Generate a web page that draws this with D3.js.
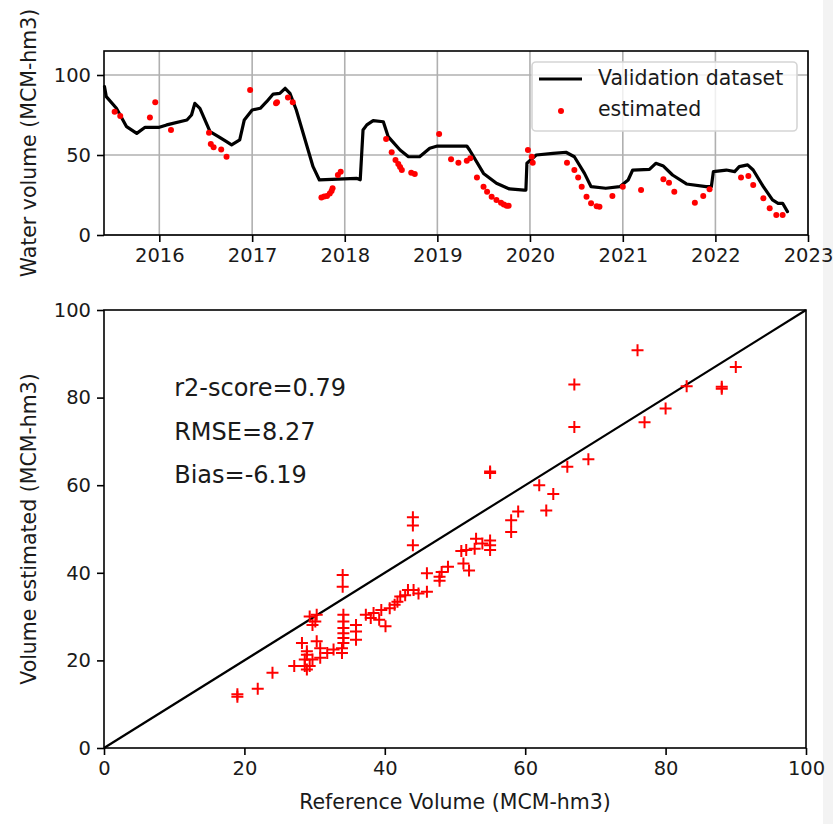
<!DOCTYPE html>
<html>
<head>
<script type="text/javascript" src="https://d3js.org/d3.v7.min.js"></script>
<title>Validation of reservoir volume</title>
<style>
  body { margin:0; background:#fff; }
  text { font-family:"DejaVu Sans", sans-serif; fill:#1a1a1a; }
</style>
</head>
<body>
<div id="chart"></div>

<script type="text/javascript">
// validation dataset (line in top panel)
var valDates = ["2015-05-30","2015-06-06","2015-07-16","2015-08-25","2015-10-04","2015-11-06","2016-01-01","2016-01-30",
  "2016-04-19","2016-05-07","2016-05-20","2016-06-09","2016-07-19","2016-08-21","2016-09-22","2016-10-12","2016-11-13",
  "2016-12-01","2017-01-01","2017-02-02","2017-02-27","2017-03-25","2017-04-20","2017-05-11","2017-05-30","2017-06-24",
  "2017-08-29","2017-09-23","2018-02-16","2018-03-03","2018-03-14","2018-03-29","2018-04-23","2018-06-02","2018-06-21",
  "2018-08-07","2018-09-09","2018-10-23","2018-12-02","2019-01-01","2019-04-27","2019-05-08","2019-07-02","2019-08-22",
  "2019-10-12","2019-12-09","2019-12-16","2019-12-20","2020-01-26","2020-04-01","2020-05-22","2020-06-24","2020-08-03",
  "2020-08-29","2020-10-26","2020-12-20","2021-01-22","2021-02-09","2021-04-16","2021-05-11","2021-06-10","2021-07-16",
  "2021-09-09","2021-11-25","2021-12-16","2021-12-24","2022-02-13","2022-03-18","2022-04-05","2022-05-08","2022-05-30",
  "2022-07-09","2022-08-14","2022-09-05","2022-09-23","2022-10-12"];
var valVolume = [92.7,86.5,79.2,67.7,63.5,67.3,67.3,68.8,
  71.9,75,82.3,79.2,64.6,61.5,58.3,56.3,59.4,
  71.9,78.1,79.2,83.3,88.1,88.5,91.7,88.5,78.1,
  42.7,34.4,35.4,34.5,65.6,68.8,71.5,70.8,61.5,
  53.1,48.9,48.9,54.2,55.6,55.6,53.1,38.5,32.3,
  28.8,28.1,28.1,44.8,50,51,51.7,48.9,38.5,
  30.2,29.2,30.2,34.4,40.6,41,44.8,43.1,37.5,
  31.9,30.2,30.2,39.6,40.6,39.6,42.7,43.8,40.6,
  30.2,21.9,19.8,19.8,14.6];

// estimated volumes (red dots in top panel)
var estDates = ["2015-07-09","2015-07-31","2015-11-25","2015-12-16","2016-02-16","2016-07-15","2016-07-22","2016-08-02",
  "2016-09-01","2016-09-22","2016-12-24","2017-04-05","2017-04-09","2017-05-22","2017-06-10","2017-10-01","2017-10-12",
  "2017-10-23","2017-11-03","2017-11-10","2017-11-14","2017-12-05","2017-12-16","2018-06-13","2018-07-05","2018-07-20",
  "2018-07-31","2018-08-07","2018-08-14","2018-09-20","2018-10-04","2019-01-08","2019-02-24","2019-03-25","2019-04-27",
  "2019-05-11","2019-06-06","2019-07-02","2019-07-16","2019-08-03","2019-08-22","2019-09-09","2019-09-20","2019-10-01",
  "2019-10-09","2019-12-24","2020-01-08","2020-01-12","2020-05-26","2020-06-24","2020-07-09","2020-07-23","2020-08-11",
  "2020-08-29","2020-09-20","2020-10-01","2020-11-21","2021-01-01","2021-03-14","2021-06-10","2021-07-02","2021-07-23",
  "2021-10-12","2021-11-14","2021-12-09","2022-04-12","2022-05-11","2022-05-30","2022-07-09","2022-08-03","2022-08-29",
  "2022-09-23"];
var estVolume = [77.1,74.4,73.5,82.9,65.6,63.9,56.9,54.8,
  53.5,48.9,90.6,82.3,83.0,86,82.9,23.5,24.0,
  24.4,26,27.5,29.2,37.5,39.6,60,51.7,46.9,
  44.4,42.5,40.6,38.9,38.1,63.1,47.3,45.2,46.4,
  47.9,36,30.2,27.1,23.9,21.9,20.2,19,18.3,
  18.3,53.1,48.9,45.2,45.2,40.6,36,30.2,23.9,
  19.8,18.0,17.7,24.4,30.2,28.1,34.8,32.7,27.1,
  20.2,24.4,28.6,36,36.9,31.3,22.9,16.7,12.5,
  12.5];

// scatter panel: reference vs estimated
var refVolume = [76,90,67,83,88,88,80,67,77,69,66,55,55,62,64,59,63,58,58,44,44,44,
  53,55,55,55,52.8,51.6,50.9,53.9,51.2,52,49,48.1,47.8,47.8,46,46,34,34,
  43.3,42.9,42.2,41.8,41.4,40.7,39.5,38.4,37.3,38,39.2,40.1,44.8,44.1,
  35.9,35.9,35.9,34.1,34.1,34.1,34.1,34.1,34.1,33.9,33.9,32.7,31.8,30.8,
  30.3,29.3,30.1,29.7,28.2,30.3,30.8,28.9,28.9,29.7,28.6,27.1,28.6,28.9,29.3,
  24,21.9,19,19];
var estScatter = [90.8,87,83,82.6,82.5,82,77.5,73.3,74.4,65.9,64.2,63.1,62.8,60,58,54,54.2,52,49.3,52.7,50.8,46.3,
  47.8,47.4,46.3,45.2,45.5,45.2,45,46.7,42.1,40.5,41.4,40.2,39.1,38.2,39.9,35.7,39.5,36.8,
  36.1,34.9,34.6,33.4,32.7,31.9,31.5,30.8,30.4,29.7,29.3,27.8,35.3,36.1,
  28.1,26.6,24.7,30.4,28.9,27.4,26.2,25.1,24,22.8,21.7,22.5,21.7,20.6,
  30.4,30,28.9,28.1,24,24.4,22.8,22.1,21.3,20.2,20.2,18.7,18.7,17.9,18.7,
  17.2,13.5,12.3,11.7];

var yearTicks = [2016,2017,2018,2019,2020,2021,2022,2023];
var volumeTicks = [0,50,100];
var scatterTicks = [0,20,40,60,80,100];
var stats = ["r2-score=0.79","RMSE=8.27","Bias=-6.19"];

(function(){
  var W = 833, H = 824;
  var parse = d3.timeParse("%Y-%m-%d");
  var tickFont = "19.5px", labelFont = "20.5px";

  var svg = d3.select("#chart").append("svg")
      .attr("width", W).attr("height", H);
  svg.append("rect").attr("width", W).attr("height", H).attr("fill", "#fff");
  svg.append("rect").attr("x", 823).attr("width", 10).attr("height", H).attr("fill", "#f3f3f3");

  // ---------- top panel: time series ----------
  var t = {left:104, right:808, top:51, bottom:235};
  var x1 = d3.scaleTime()
      .domain([parse("2015-05-28"), parse("2023-01-01")])
      .range([t.left, t.right]);
  var y1 = d3.scaleLinear().domain([0, 115]).range([t.bottom, t.top]);
  var yearDates = yearTicks.map(function(y){ return new Date(y, 0, 1); });

  var g1 = svg.append("g");
  // grid
  g1.selectAll(".vgrid").data(yearDates).enter().append("line")
    .attr("x1", function(d){ return x1(d); }).attr("x2", function(d){ return x1(d); })
    .attr("y1", t.top).attr("y2", t.bottom)
    .attr("stroke", "#b0b0b0").attr("stroke-width", 1.6);
  g1.selectAll(".hgrid").data(volumeTicks).enter().append("line")
    .attr("x1", t.left).attr("x2", t.right)
    .attr("y1", function(d){ return y1(d); }).attr("y2", function(d){ return y1(d); })
    .attr("stroke", "#b0b0b0").attr("stroke-width", 1.6);

  var valData = valDates.map(function(d, i){ return [parse(d), valVolume[i]]; });
  var estData = estDates.map(function(d, i){ return [parse(d), estVolume[i]]; });

  var line = d3.line()
      .x(function(d){ return x1(d[0]); })
      .y(function(d){ return y1(d[1]); });
  g1.append("path").datum(valData)
    .attr("d", line).attr("fill", "none")
    .attr("stroke", "#000").attr("stroke-width", 3.2)
    .attr("stroke-linejoin", "round").attr("stroke-linecap", "round");

  g1.selectAll(".est").data(estData).enter().append("circle")
    .attr("cx", function(d){ return x1(d[0]); })
    .attr("cy", function(d){ return y1(d[1]); })
    .attr("r", 3).attr("fill", "#ff0000");

  // frame
  g1.append("rect").attr("x", t.left).attr("y", t.top)
    .attr("width", t.right - t.left).attr("height", t.bottom - t.top)
    .attr("fill", "none").attr("stroke", "#000").attr("stroke-width", 1.6);

  var ax1 = g1.append("g").attr("transform", "translate(0," + t.bottom + ")")
    .call(d3.axisBottom(x1).tickValues(yearDates).tickFormat(d3.timeFormat("%Y"))
      .tickSize(7).tickPadding(6));
  var ay1 = g1.append("g").attr("transform", "translate(" + t.left + ",0)")
    .call(d3.axisLeft(y1).tickValues(volumeTicks).tickSize(7).tickPadding(6));
  [ax1, ay1].forEach(function(a){
    a.select(".domain").remove();
    a.selectAll(".tick line").attr("stroke", "#000").attr("stroke-width", 1.6);
    a.selectAll("text").style("font-size", tickFont).style("font-family", "DejaVu Sans").attr("fill", "#1a1a1a");
  });

  svg.append("text")
    .attr("transform", "translate(30," + ((t.top + t.bottom) / 2) + ") rotate(-90)")
    .attr("text-anchor", "middle").attr("dominant-baseline", "middle")
    .style("font-size", labelFont)
    .text("Water volume (MCM-hm3)");

  // legend
  var lg = g1.append("g");
  lg.append("rect").attr("x", 532).attr("y", 62).attr("width", 265).attr("height", 69)
    .attr("rx", 4).attr("fill", "#fff").attr("fill-opacity", 0.8)
    .attr("stroke", "#d5d5d5").attr("stroke-width", 1.6);
  lg.append("line").attr("x1", 539).attr("x2", 582).attr("y1", 79).attr("y2", 79)
    .attr("stroke", "#000").attr("stroke-width", 3.2);
  lg.append("circle").attr("cx", 561).attr("cy", 111).attr("r", 3).attr("fill", "#ff0000");
  lg.append("text").attr("x", 598).attr("y", 79).attr("dominant-baseline", "middle")
    .style("font-size", labelFont).text("Validation dataset");
  lg.append("text").attr("x", 598).attr("y", 110).attr("dominant-baseline", "middle")
    .style("font-size", labelFont).text("estimated");

  // ---------- bottom panel: scatter ----------
  var b = {left:104, right:806, top:310, bottom:748};
  var x2 = d3.scaleLinear().domain([0, 100]).range([b.left, b.right]);
  var y2 = d3.scaleLinear().domain([0, 100]).range([b.bottom, b.top]);
  var g2 = svg.append("g");

  g2.append("line")
    .attr("x1", x2(0)).attr("y1", y2(0)).attr("x2", x2(100)).attr("y2", y2(100))
    .attr("stroke", "#000").attr("stroke-width", 2.2);

  var pts = refVolume.map(function(r, i){ return [r, estScatter[i]]; });
  var cross = g2.selectAll(".pt").data(pts).enter().append("path")
    .attr("transform", function(d){ return "translate(" + x2(d[0]) + "," + y2(d[1]) + ")"; })
    .attr("d", "M-6,0H6M0,-6V6")
    .attr("stroke", "#ff0000").attr("stroke-width", 2).attr("fill", "none");

  g2.append("rect").attr("x", b.left).attr("y", b.top)
    .attr("width", b.right - b.left).attr("height", b.bottom - b.top)
    .attr("fill", "none").attr("stroke", "#000").attr("stroke-width", 1.6);

  var ax2 = g2.append("g").attr("transform", "translate(0," + b.bottom + ")")
    .call(d3.axisBottom(x2).tickValues(scatterTicks).tickSize(7).tickPadding(6));
  var ay2 = g2.append("g").attr("transform", "translate(" + b.left + ",0)")
    .call(d3.axisLeft(y2).tickValues(scatterTicks).tickSize(7).tickPadding(6));
  [ax2, ay2].forEach(function(a){
    a.select(".domain").remove();
    a.selectAll(".tick line").attr("stroke", "#000").attr("stroke-width", 1.6);
    a.selectAll("text").style("font-size", tickFont).style("font-family", "DejaVu Sans").attr("fill", "#1a1a1a");
  });

  g2.selectAll(".stat").data(stats).enter().append("text")
    .attr("x", x2(10))
    .attr("y", function(d, i){ return y2(82 - i * 10); })
    .attr("dominant-baseline", "middle")
    .style("font-size", "24px")
    .text(function(d){ return d; });

  svg.append("text")
    .attr("x", (b.left + b.right) / 2).attr("y", 803)
    .attr("text-anchor", "middle").attr("dominant-baseline", "middle")
    .style("font-size", labelFont)
    .text("Reference Volume (MCM-hm3)");
  svg.append("text")
    .attr("transform", "translate(30," + ((b.top + b.bottom) / 2) + ") rotate(-90)")
    .attr("text-anchor", "middle").attr("dominant-baseline", "middle")
    .style("font-size", labelFont)
    .text("Volume estimated (MCM-hm3)");
})();
</script>
</body>
</html>
